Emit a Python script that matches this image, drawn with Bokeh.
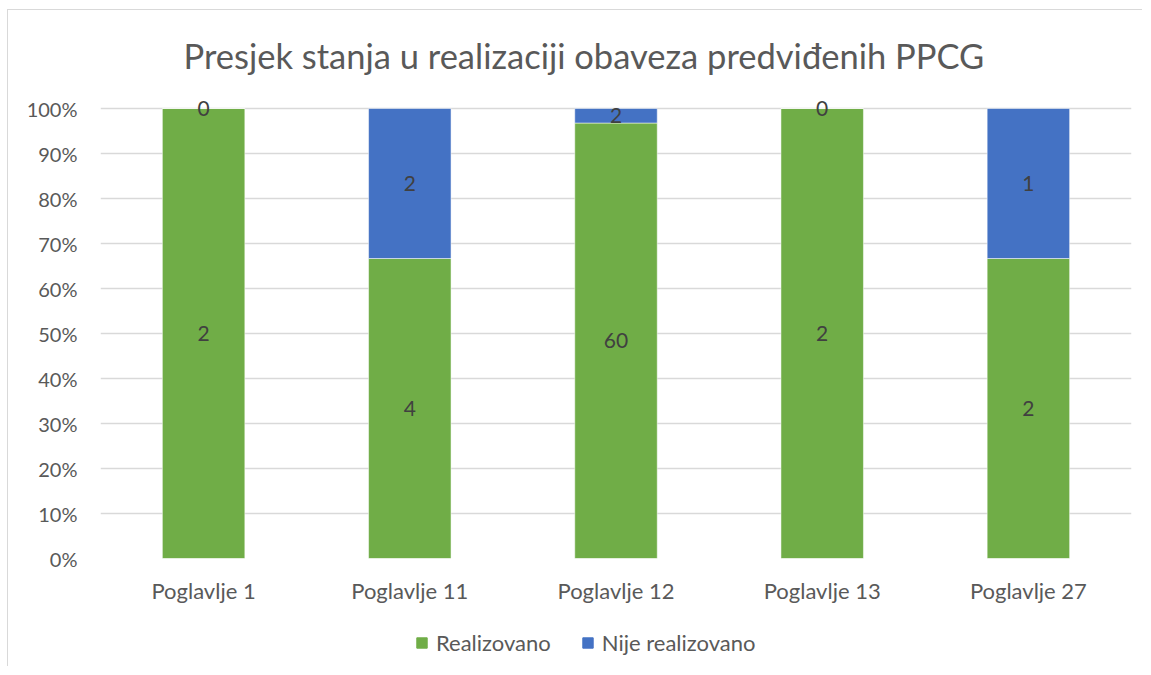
from bokeh.plotting import figure
from bokeh.layouts import column
from bokeh.models import FactorRange, Legend, LegendItem, NumeralTickFormatter, FixedTicker, ColumnDataSource
from bokeh.core.properties import value
from bokeh.embed import file_html
from bokeh.resources import INLINE

categories = ["Poglavlje 1", "Poglavlje 11", "Poglavlje 12", "Poglavlje 13", "Poglavlje 27"]
realizovano = [2, 4, 60, 2, 2]
nije_realizovano = [0, 2, 2, 0, 1]
series_names = ["Realizovano", "Nije realizovano"]
colors = ["#70AD47", "#4472C4"]
y_ticks = [0, 0.1, 0.2, 0.3, 0.4, 0.5, 0.6, 0.7, 0.8, 0.9, 1.0]

FONT = "Lato"
TXT = "#595959"
BORDER = "1px solid #D9D9D9"

totals = [a + b for a, b in zip(realizovano, nije_realizovano)]
share_r = [a / t for a, t in zip(realizovano, totals)]
share_n = [b / t for b, t in zip(nije_realizovano, totals)]

src = ColumnDataSource(dict(cat=categories, r=share_r, n=share_n))

p = figure(x_range=FactorRange(factors=categories, range_padding=0), y_range=(0, 1.04),
           width=1135, height=610, output_backend="svg", toolbar_location=None,
           min_border_left=92, min_border_right=12, min_border_top=80, min_border_bottom=62)
p.styles = {"margin-left": "7px", "margin-top": "9px", "border-left": BORDER, "border-top": BORDER}

renderers = p.vbar_stack(["r", "n"], x="cat", width=0.4, source=src, color=colors,
                         line_color="white", line_width=0.5)

# data labels
lab_x, lab_y, lab_t = [], [], []
for c, r, n, vr, vn in zip(categories, share_r, share_n, realizovano, nije_realizovano):
    lab_x += [c, c]
    lab_y += [r / 2, r + n / 2]
    lab_t += [str(vr), str(vn)]
p.text(x=lab_x, y=lab_y, text=lab_t, text_align="center", text_baseline="middle",
       text_font=value(FONT), text_font_size="21px", text_color="#404040")

p.title.text = "Presjek stanja u realizaciji obaveza predviđenih PPCG"
p.title.align = "left"
p.title.offset = 83
p.title.text_font = FONT
p.title.text_font_size = "34.5px"
p.title.text_font_style = "normal"
p.title.text_color = TXT
p.title.standoff = 29

p.yaxis.ticker = FixedTicker(ticks=y_ticks)
p.yaxis.formatter = NumeralTickFormatter(format="0%")
for ax in (p.xaxis[0], p.yaxis[0]):
    ax.axis_line_color = None
    ax.major_tick_line_color = None
    ax.minor_tick_line_color = None
    ax.major_label_text_font = FONT
    ax.major_label_text_color = TXT
p.yaxis.major_label_text_font_size = "20px"
p.xaxis.major_label_text_font_size = "22px"
p.yaxis.major_label_standoff = 17
p.xaxis.major_label_standoff = 12

p.xgrid.grid_line_color = None
p.ygrid.grid_line_color = "#D9D9D9"
p.ygrid.grid_line_width = 1.3
p.ygrid.ticker = FixedTicker(ticks=y_ticks)
p.outline_line_color = None

# legend strip below the chart
lf = figure(width=1135, height=47, output_backend="svg", toolbar_location=None,
            x_axis_type=None, y_axis_type=None, min_border=0, x_range=(0, 1), y_range=(0, 1))
lf.styles = {"margin-left": "7px", "border-left": BORDER}
lf.outline_line_color = None
lf.xgrid.grid_line_color = None
lf.ygrid.grid_line_color = None
leg_r = [lf.vbar(x=[-5], top=[0], width=0.1, color=colors[i]) for i in range(2)]
legend = Legend(items=[LegendItem(label=series_names[i], renderers=[leg_r[i]]) for i in range(2)],
                orientation="horizontal", location=(315, 10),
                label_text_font=FONT, label_text_font_size="22px", label_text_color=TXT,
                glyph_width=13, glyph_height=13, spacing=30, label_standoff=8,
                border_line_color=None, background_fill_alpha=0, margin=0, padding=5)
lf.add_layout(legend, "center")

layout = column(p, lf, spacing=0)
open("out.html", "w").write(file_html(layout, INLINE))
